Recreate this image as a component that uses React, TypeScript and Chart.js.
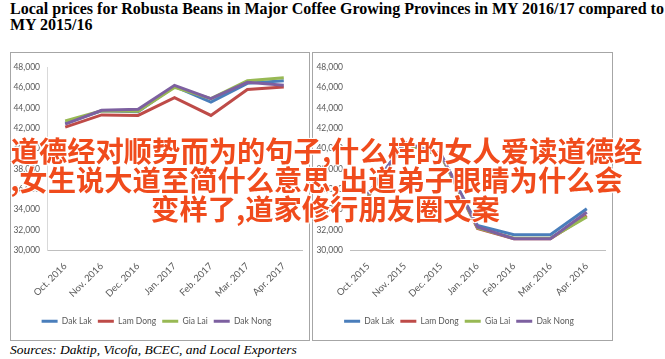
import React, { useEffect, useRef } from "react";
import { Chart, registerables } from "chart.js";

Chart.register(...registerables);

const seriesNames = ["Dak Lak", "Lam Dong", "Gia Lai", "Dak Nong"];
const seriesColors = ["#4a7ebb", "#be4b48", "#98b954", "#7d60a0"];

const months1617 = ["Oct. 2016", "Nov. 2016", "Dec. 2016", "Jan. 2017", "Feb. 2017", "Mar. 2017", "Apr. 2017"];
const dakLak1617 = [42500, 43700, 43600, 46100, 44550, 46400, 46650];
const lamDong1617 = [42100, 43300, 43250, 45000, 43250, 45800, 46050];
const giaLai1617 = [42700, 43700, 43650, 46000, 44900, 46650, 46950];
const dakNong1617 = [42400, 43750, 43850, 46200, 44900, 46500, 46200];

const months1516 = ["Oct. 2015", "Nov. 2015", "Dec. 2015", "Jan. 2016", "Feb. 2016", "Mar. 2016", "Apr. 2016"];
const dakLak1516 = [35600, 40600, 39400, 32450, 31550, 31550, 34100];
const lamDong1516 = [35300, 40500, 39300, 32150, 31150, 31150, 33400];
const giaLai1516 = [35400, 40500, 39300, 32200, 31200, 31200, 33300];
const dakNong1516 = [35500, 40600, 39450, 32300, 31150, 31150, 33750];

const yMin = 30000;
const yMax = 48000;
const yStep = 2000;

const titleLines = [
  "Local prices for Robusta Beans in Major Coffee Growing Provinces in MY 2016/17 compared to",
  "MY 2015/16",
];
const overlayLines = [
  "道德经对顺势而为的句子,什么样的女人爱读道德经",
  ",女生说大道至简什么意思,出道弟子眼睛为什么会",
  "变样了,道家修行朋友圈文案",
];
const overlayShift = [0, -10, -1];
const sourceText = "Sources: Daktip, Vicofa, BCEC, and Local Exporters";

const fontFamily = "Lato, 'Liberation Sans', Arial, sans-serif";

type ChartProps = {
  left: number;
  top: number;
  width: number;
  height: number;
  labels: string[];
  series: number[][];
  yWidth: number;
  yBorder: boolean;
};

function LineChart({ left, top, width, height, labels, series, yWidth, yBorder }: ChartProps) {
  const ref = useRef<HTMLCanvasElement>(null);
  useEffect(() => {
    const chart = new Chart(ref.current!, {
      type: "line",
      data: {
        labels,
        datasets: series.map((d, i) => ({
          label: seriesNames[i],
          data: d,
          borderColor: seriesColors[i],
          backgroundColor: seriesColors[i],
          borderWidth: 3,
          pointRadius: 0,
          pointStyle: "line",
          tension: 0,
          order: 4 - i,
        })),
      },
      options: {
        responsive: false,
        animation: false,
        devicePixelRatio: 1,
        layout: { padding: { left: 0, right: 7, top: 14, bottom: 3.5 } },
        plugins: {
          tooltip: { enabled: false },
          legend: {
            position: "bottom",
            labels: {
              usePointStyle: true,
              pointStyle: "line",
              pointStyleWidth: 16,
              boxHeight: 9,
              padding: 6,
              color: "#595959",
              font: { family: fontFamily, size: 8.5 },
              sort: (a: any, b: any) => a.datasetIndex - b.datasetIndex,
            },
          },
        },
        scales: {
          x: {
            offset: true,
            grid: { display: false, drawTicks: false },
            border: { display: true, color: "#bfbfbf", width: 1 },
            ticks: {
              autoSkip: false,
              minRotation: 45,
              maxRotation: 45,
              padding: 10,
              color: "#595959",
              font: { family: fontFamily, size: 9.5 },
            },
            afterFit: (s: any) => {
              s.height = 60.5;
            },
          },
          y: {
            min: yMin,
            max: yMax,
            grid: { display: false, drawTicks: false },
            border: { display: yBorder, color: "#d9d9d9", width: 1 },
            ticks: {
              stepSize: yStep,
              color: "#595959",
              font: { family: fontFamily, size: 8.5 },
              padding: 7,
            },
            afterFit: (s: any) => {
              s.width = yWidth;
            },
          },
        },
      },
    });
    return () => chart.destroy();
  }, []);
  return (
    <div style={{ position: "absolute", left, top, width, height }}>
      <canvas ref={ref} width={width} height={height} style={{ width, height, display: "block" }} />
    </div>
  );
}

export default function App() {
  return (
    <div
      style={{
        position: "fixed",
        left: 0,
        top: 0,
        width: 665,
        height: 359,
        background: "#ffffff",
        overflow: "hidden",
      }}
    >
      <div
        style={{
          position: "absolute",
          left: 10,
          top: 1,
          whiteSpace: "nowrap",
          fontFamily: "'Liberation Serif', 'Times New Roman', serif",
          fontWeight: 700,
          fontSize: 16,
          lineHeight: "16px",
          color: "#000",
        }}
      >
        {titleLines[0]}
        <br />
        {titleLines[1]}
      </div>

      <div
        style={{
          position: "absolute",
          left: 10,
          top: 52,
          width: 300,
          height: 289,
          border: "1px solid #a6a6a6",
          boxSizing: "border-box",
        }}
      />
      <div
        style={{
          position: "absolute",
          left: 312,
          top: 52,
          width: 301,
          height: 289,
          border: "1px solid #a6a6a6",
          boxSizing: "border-box",
        }}
      />

      <LineChart
        left={11}
        top={53}
        width={298}
        height={286}
        labels={months1617}
        series={[dakLak1617, lamDong1617, giaLai1617, dakNong1617]}
        yWidth={36}
        yBorder={true}
      />
      <LineChart
        left={313}
        top={53}
        width={299}
        height={286}
        labels={months1516}
        series={[dakLak1516, lamDong1516, giaLai1516, dakNong1516]}
        yWidth={37}
        yBorder={false}
      />

      <div
        style={{
          position: "absolute",
          left: 10,
          top: 342,
          whiteSpace: "nowrap",
          fontFamily: "'Liberation Serif', 'Times New Roman', serif",
          fontStyle: "italic",
          fontSize: 13.5,
          lineHeight: "16px",
          color: "#000",
        }}
      >
        {sourceText}
      </div>

      <div
        style={{
          position: "absolute",
          left: 0,
          top: 135,
          width: 653,
          textAlign: "center",
          whiteSpace: "nowrap",
          fontFamily: "'Noto Sans CJK SC', sans-serif",
          fontWeight: 700,
          fontSize: 28.3,
          lineHeight: "29px",
          color: "#f04b1c",
          textShadow:
            "1px 1px 0 #fff, -1px -1px 0 #fff, 1px -1px 0 #fff, -1px 1px 0 #fff, 0 0 3px #fff",
        }}
      >
        {overlayLines.map((l, i) => (
          <div key={i} style={{ position: "relative", left: overlayShift[i] }}>
            {l}
          </div>
        ))}
      </div>
    </div>
  );
}
